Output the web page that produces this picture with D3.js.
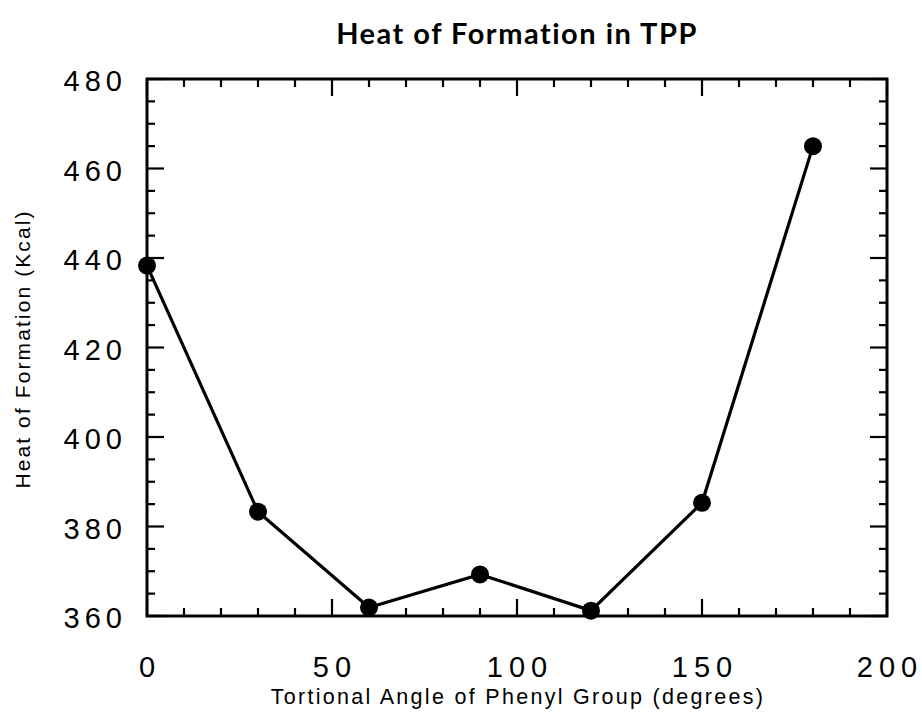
<!DOCTYPE html>
<html>
<head>
<meta charset="utf-8">
<script src="https://cdn.jsdelivr.net/npm/d3@7"></script>
<style>
  html, body { margin: 0; padding: 0; background: #fff; }
  svg { display: block; }
</style>
</head>
<body>
<svg id="chart" width="922" height="717"></svg>
<script>
// Torsional angle of the phenyl group (degrees) and heat of formation (kcal)
const angles = [0, 30, 60, 90, 120, 150, 180];
const heatValues = [438.3, 383.3, 361.9, 369.3, 361.2, 385.3, 465.0];
const xTickLabels = [0, 50, 100, 150, 200];
const yTickLabels = [360, 380, 400, 420, 440, 460, 480];

const titleText = "Heat of Formation in TPP";
const xTitle = "Tortional Angle of Phenyl Group (degrees)";
const yTitle = "Heat of Formation (Kcal)";

const svg = d3.select("#chart");
const margin = { left: 147, right: 35, top: 79, bottom: 101 };
const W = 922, H = 717;
const innerW = W - margin.left - margin.right;
const innerH = H - margin.top - margin.bottom;

const x = d3.scaleLinear().domain([0, 200]).range([0, innerW]);
const y = d3.scaleLinear().domain([360, 480]).range([innerH, 0]);

const g = svg.append("g").attr("transform", `translate(${margin.left},${margin.top})`);

const labelFont = "'Liberation Sans', Arial, sans-serif";
const minorLen = 8, majorLen = 17;

// Inward-pointing tick marks on all four sides
const xMinor = d3.range(0, 201, 10);
const yMinor = d3.range(360, 481, 5);
const tickG = g.append("g").attr("stroke", "#000").attr("stroke-width", 2.2);
xMinor.forEach(v => {
  const len = v % 50 === 0 ? majorLen : minorLen;
  tickG.append("line").attr("x1", x(v)).attr("x2", x(v)).attr("y1", innerH).attr("y2", innerH - len);
  tickG.append("line").attr("x1", x(v)).attr("x2", x(v)).attr("y1", 0).attr("y2", len);
});
yMinor.forEach(v => {
  const len = v % 20 === 0 ? majorLen : minorLen;
  tickG.append("line").attr("y1", y(v)).attr("y2", y(v)).attr("x1", 0).attr("x2", len);
  tickG.append("line").attr("y1", y(v)).attr("y2", y(v)).attr("x1", innerW).attr("x2", innerW - len);
});

// Frame
g.append("rect")
  .attr("x", 0).attr("y", 0).attr("width", innerW).attr("height", innerH)
  .attr("fill", "none").attr("stroke", "#000").attr("stroke-width", 3);

// Tick labels
g.append("g").selectAll("text").data(xTickLabels).join("text")
  .attr("x", d => x(d) + 3).attr("y", innerH + 61)
  .attr("text-anchor", "middle")
  .attr("font-family", labelFont).attr("font-size", 29)
  .attr("letter-spacing", 6)
  .text(d => d);

g.append("g").selectAll("text").data(yTickLabels).join("text")
  .attr("x", -20).attr("y", d => y(d) + 12)
  .attr("text-anchor", "end")
  .attr("font-family", labelFont).attr("font-size", 29)
  .attr("letter-spacing", 5)
  .text(d => d);

// Data line and markers
const pts = angles.map((a, i) => [a, heatValues[i]]);
g.append("path")
  .datum(pts)
  .attr("fill", "none").attr("stroke", "#000").attr("stroke-width", 3.2)
  .attr("d", d3.line().x(d => x(d[0])).y(d => y(d[1])));
g.append("g").selectAll("circle").data(pts).join("circle")
  .attr("cx", d => x(d[0])).attr("cy", d => y(d[1])).attr("r", 9).attr("fill", "#000");

// Titles
svg.append("text")
  .attr("x", 517).attr("y", 44)
  .attr("text-anchor", "middle")
  .attr("font-family", "Lato, 'DejaVu Sans', sans-serif").attr("font-weight", "bold")
  .attr("font-size", 29)
  .attr("letter-spacing", 1.5)
  .text(titleText);

svg.append("text")
  .attr("x", 518).attr("y", 704)
  .attr("text-anchor", "middle")
  .attr("font-family", labelFont).attr("font-size", 21.5)
  .attr("letter-spacing", 2.3)
  .text(xTitle);

svg.append("text")
  .attr("transform", "translate(30,349) rotate(-90)")
  .attr("text-anchor", "middle")
  .attr("font-family", labelFont).attr("font-size", 21)
  .attr("letter-spacing", 2.1)
  .text(yTitle);
</script>
</body>
</html>
